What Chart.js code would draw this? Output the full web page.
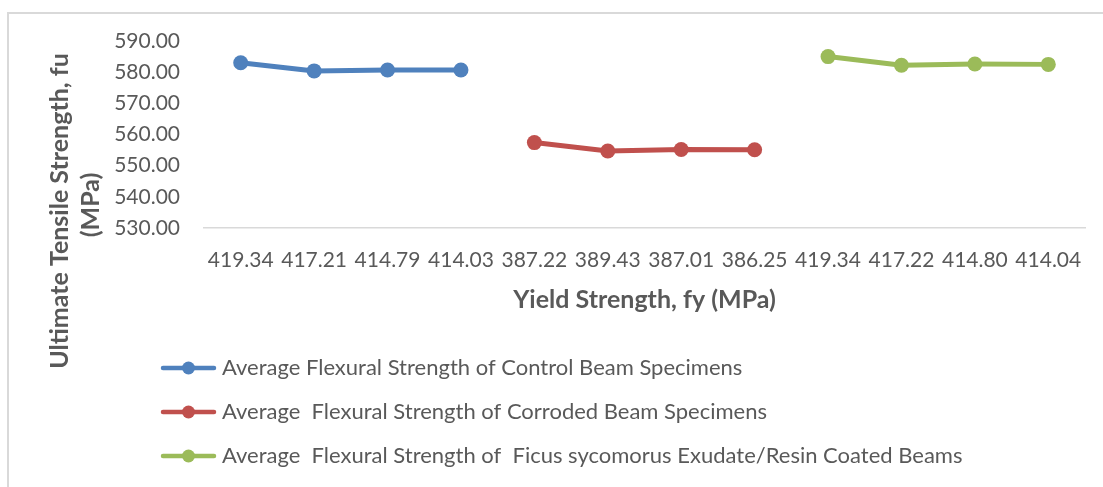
<!DOCTYPE html>
<html>
<head>
<meta charset="utf-8">
<script src="https://cdn.jsdelivr.net/npm/chart.js@4.4.1/dist/chart.umd.min.js"></script>
<style>
  html, body { margin: 0; padding: 0; background: #fff; }
  #frame { position: absolute; left: 7px; top: 12px; width: 1096px; height: 475px;
    border-left: 2px solid #d9d9d9; border-top: 2px solid #d9d9d9; }
  #wrap { position: absolute; left: 0; top: 0; width: 1094px; height: 473px; }
</style>
</head>
<body>
<div id="frame"><div id="wrap"><canvas id="chart"></canvas></div></div>
<script>
  // yield strength categories (x axis) and ultimate tensile strength values
  const yieldLabels = ["419.34", "417.21", "414.79", "414.03", "387.22", "389.43",
    "387.01", "386.25", "419.34", "417.22", "414.80", "414.04"];
  const controlBeams = [583.0, 580.4, 580.7, 580.7];
  const corrodedBeams = [557.4, 554.7, 555.2, 555.1];
  const coatedBeams = [585.0, 582.2, 582.6, 582.5];
  const seriesNames = [
    "Average Flexural Strength of Control Beam Specimens",
    "Average  Flexural Strength of Corroded Beam Specimens",
    "Average  Flexural Strength of  Ficus sycomorus Exudate/Resin Coated Beams"
  ];
  const yMin = 530, yMax = 590, yStep = 10;
  const yTitleLines = ["Ultimate Tensile Strength, fu", "(MPa)"];
  const xTitle = "Yield Strength, fy (MPa)";

  const INK = "#595959";
  const FONT = "Lato";
  const colors = ["#4f81bd", "#c0504d", "#9bbb59"];

  const gap = (n) => Array(n).fill(null);
  const seriesData = [
    controlBeams.concat(gap(8)),
    gap(4).concat(corrodedBeams, gap(4)),
    gap(8).concat(coatedBeams)
  ];

  // small line + dot marker for the legend
  function legendMarker(color) {
    const c = document.createElement("canvas");
    c.width = 57; c.height = 16;
    const g = c.getContext("2d");
    g.strokeStyle = color; g.lineWidth = 4.5; g.lineCap = "round";
    g.beginPath(); g.moveTo(3, 8); g.lineTo(54, 8); g.stroke();
    g.fillStyle = color;
    g.beginPath(); g.arc(28.5, 8, 6.5, 0, Math.PI * 2); g.fill();
    return c;
  }

  // legend sits indented, like the original
  const legendShift = {
    id: "legendShift",
    afterLayout(chart) {
      chart.legend.left += 135;
      chart.legend.right += 135;
    }
  };

  // rotated two-line y title, centred lower than the plot
  const yTitle = {
    id: "yTitle",
    afterDraw(chart) {
      const ctx = chart.ctx;
      ctx.save();
      ctx.font = "bold 25px " + FONT;
      ctx.fillStyle = INK;
      ctx.textAlign = "center";
      ctx.textBaseline = "middle";
      ctx.translate(51, 197);
      ctx.rotate(-Math.PI / 2);
      ctx.fillText(yTitleLines[0], 0, 0);
      ctx.fillText(yTitleLines[1], 6, 31);
      ctx.restore();
    }
  };

  new Chart(document.getElementById("chart"), {
    type: "line",
    data: {
      labels: yieldLabels,
      datasets: seriesData.map((d, i) => ({
        label: seriesNames[i],
        data: d,
        borderColor: colors[i],
        backgroundColor: colors[i],
        pointBackgroundColor: colors[i],
        pointBorderWidth: 0,
        pointRadius: 7.5,
        borderWidth: 5,
        tension: 0,
        spanGaps: false
      }))
    },
    options: {
      responsive: true,
      maintainAspectRatio: false,
      animation: false,
      layout: { padding: { top: 27, right: 18, bottom: 10, left: 0 } },
      plugins: {
        tooltip: { enabled: false },
        legend: {
          position: "bottom",
          align: "start",
          labels: {
            usePointStyle: true,
            pointStyleWidth: 45,
            padding: 22,
            color: INK,
            font: { family: FONT, size: 22 },
            generateLabels(chart) {
              const items = Chart.defaults.plugins.legend.labels.generateLabels(chart);
              items.forEach((it, i) => { it.pointStyle = legendMarker(colors[i]); });
              return items;
            }
          }
        }
      },
      scales: {
        x: {
          offset: true,
          grid: { display: false, drawTicks: false },
          border: { display: true, color: "#d9d9d9", width: 1.5 },
          ticks: { color: INK, font: { family: FONT, size: 21 }, padding: 20,
            maxRotation: 0, autoSkip: false },
          title: { display: true, text: xTitle, color: INK,
            font: { family: FONT, size: 25, weight: "bold" }, padding: { top: 0, bottom: 20 } },
          afterFit(scale) { scale.height = 107; }
        },
        y: {
          min: yMin,
          max: yMax,
          grid: { display: false, drawTicks: false },
          border: { display: false },
          ticks: { stepSize: yStep, color: INK, font: { family: FONT, size: 21 }, padding: 24,
            callback: (v) => v.toFixed(2) },
          afterFit(scale) {
            scale.width = 195;
            scale.paddingTop = 12;
            scale.paddingBottom = 12;
          }
        }
      }
    },
    plugins: [legendShift, yTitle]
  });
</script>
</body>
</html>
